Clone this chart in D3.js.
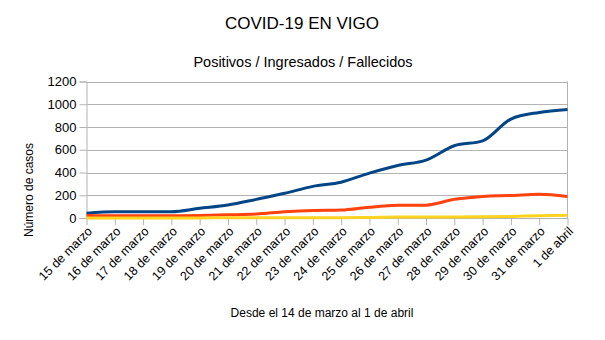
<!DOCTYPE html>
<html>
<head>
<meta charset="utf-8">
<script src="https://cdn.jsdelivr.net/npm/d3@7"></script>
<style>
  html, body { margin: 0; padding: 0; background: #fff; }
  svg { display: block; font-family: "Liberation Sans", Arial, sans-serif; }
</style>
</head>
<body>
<svg id="chart" width="605" height="340"></svg>
<script>
// Daily figures for Vigo
const dias = [
  "15 de marzo", "16 de marzo", "17 de marzo", "18 de marzo", "19 de marzo",
  "20 de marzo", "21 de marzo", "22 de marzo", "23 de marzo", "24 de marzo",
  "25 de marzo", "26 de marzo", "27 de marzo", "28 de marzo", "29 de marzo",
  "30 de marzo", "31 de marzo", "1 de abril"
];
const positivos  = [42, 55, 55, 55, 85, 114, 164, 217, 278, 315, 395, 462, 509, 635, 678, 870, 928, 954];
const ingresados = [23, 20, 20, 20, 22, 28, 35, 54, 66, 70, 95, 111, 113, 164, 190, 197, 208, 190];
const fallecidos = [0, 0, 0, 0, 1, 2, 3, 3, 3, 3, 5, 8, 9, 9, 10, 13, 20, 25];
const yTicks = [0, 200, 400, 600, 800, 1000, 1200];

const series = [
  { name: "Positivos",  values: positivos,  color: "#004586" },
  { name: "Ingresados", values: ingresados, color: "#ff420e" },
  { name: "Fallecidos", values: fallecidos, color: "#ffd320" }
];

const svg = d3.select("#chart");
const plot = { left: 86.5, right: 567.5, top: 81.5, bottom: 218 };

const x = d3.scalePoint().domain(dias).range([plot.left, plot.right]);
const y = d3.scaleLinear().domain([0, 1200]).range([plot.bottom, plot.top]);

// Titles
svg.append("text")
  .attr("x", 302).attr("y", 29)
  .attr("text-anchor", "middle")
  .attr("font-size", 17).attr("fill", "#000")
  .text("COVID-19 EN VIGO");
svg.append("text")
  .attr("x", 303).attr("y", 67)
  .attr("text-anchor", "middle")
  .attr("font-size", 14.5).attr("fill", "#000")
  .text("Positivos / Ingresados / Fallecidos");

// Horizontal grid
svg.append("g")
  .selectAll("line")
  .data(yTicks.filter(d => d > 0))
  .join("line")
  .attr("x1", plot.left).attr("x2", plot.right)
  .attr("y1", d => Math.round(y(d)) + 0.5).attr("y2", d => Math.round(y(d)) + 0.5)
  .attr("stroke", "#b3b3b3").attr("stroke-width", 1);

// Right border of the plot area
svg.append("line")
  .attr("x1", plot.right).attr("x2", plot.right)
  .attr("y1", plot.top).attr("y2", plot.bottom)
  .attr("stroke", "#b3b3b3");

// Y axis
const yAxis = svg.append("g")
  .attr("transform", `translate(${plot.left},0)`)
  .call(d3.axisLeft(y).tickValues(yTicks).tickSize(7).tickPadding(3).tickFormat(d3.format("d")));
yAxis.select(".domain").attr("stroke", "#b3b3b3");
yAxis.selectAll(".tick line").attr("stroke", "#b3b3b3");
yAxis.selectAll(".tick text")
  .attr("font-family", "Liberation Sans, Arial, sans-serif")
  .attr("font-size", 13).attr("fill", "#000");

// X axis
const xAxis = svg.append("g")
  .attr("transform", `translate(0,${plot.bottom})`)
  .call(d3.axisBottom(x).tickSize(7).tickSizeOuter(0));
xAxis.select(".domain").attr("stroke", "#b3b3b3");
xAxis.selectAll(".tick line").attr("stroke", "#b3b3b3");
xAxis.selectAll(".tick text")
  .attr("font-family", "Liberation Sans, Arial, sans-serif")
  .attr("font-size", 12.5).attr("fill", "#000")
  .attr("text-anchor", "end")
  .attr("dy", null)
  .attr("y", 0)
  .attr("transform", "translate(6,14) rotate(-45)");

// Axis titles
svg.append("text")
  .attr("transform", "translate(33,190) rotate(-90)")
  .attr("text-anchor", "middle")
  .attr("font-size", 12).attr("fill", "#000")
  .text("Número de casos");
svg.append("text")
  .attr("x", 322).attr("y", 317)
  .attr("text-anchor", "middle")
  .attr("font-size", 12).attr("fill", "#000")
  .text("Desde el 14 de marzo al 1 de abril");

// Series lines
const line = d3.line()
  .x((d, i) => x(dias[i]))
  .y(d => y(d))
  .curve(d3.curveMonotoneX);

svg.append("g")
  .selectAll("path")
  .data(series)
  .join("path")
  .attr("d", s => line(s.values))
  .attr("fill", "none")
  .attr("stroke", s => s.color)
  .attr("stroke-width", 3)
  .attr("stroke-linejoin", "round")
  .attr("stroke-linecap", "butt");
</script>
</body>
</html>
